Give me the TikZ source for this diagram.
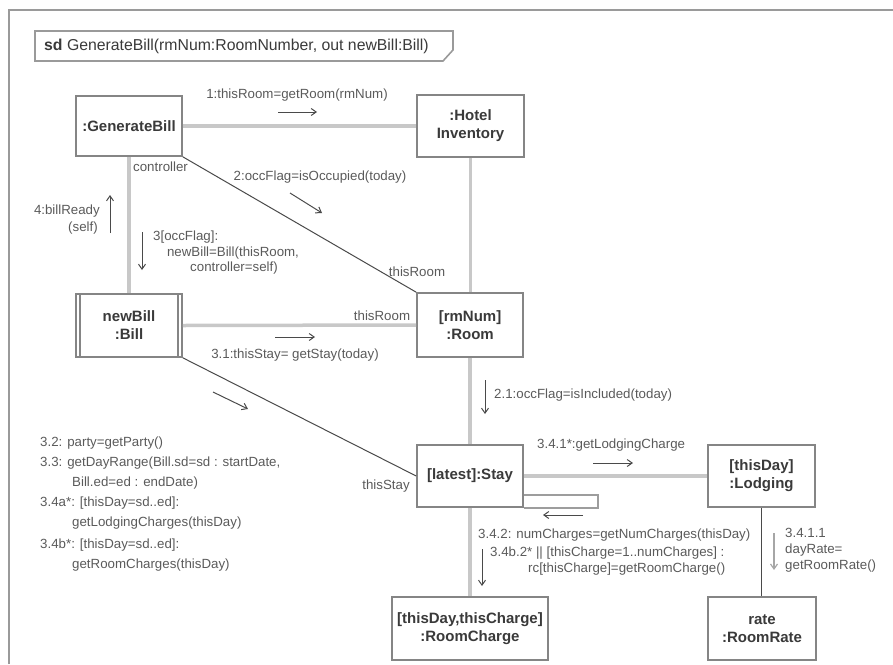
\documentclass[tikz,border=0pt]{standalone}
\usepackage{fontspec}
\setmainfont{Liberation Sans}
\usetikzlibrary{arrows.meta}
\definecolor{txtc}{HTML}{5A5A5A}
\definecolor{objtxt}{HTML}{3A3A3A}
\definecolor{boxc}{HTML}{858585}
\definecolor{linkc}{HTML}{C8C8C8}
\definecolor{diagc}{HTML}{4A4A4A}
\definecolor{arrc}{HTML}{4A4A4A}
\definecolor{framec}{HTML}{9A9A9A}
\begin{document}
\begin{tikzpicture}[x=1pt,y=-1pt,
  obj/.style={draw=boxc, line width=1.6pt, fill=white, inner sep=0pt, align=center,
    font=\fontsize{15}{18}\selectfont\bfseries, text=objtxt},
  link/.style={draw=linkc, line width=3.5pt},
  thinlink/.style={draw=diagc, line width=1pt},
  lbl/.style={font=\fontsize{13.3}{16}\selectfont, text=txtc, inner sep=0pt},
  msg/.style={draw=arrc, line width=1pt, -{Straight Barb[length=5pt,width=7pt]}},
  msggray/.style={draw=gray!70, line width=1.2pt, -{Straight Barb[length=5pt,width=7pt]}},
]
\useasboundingbox (0,0) rectangle (893,664);
% frame
\draw[draw=framec, line width=2.5pt] (9,664) -- (9,10) -- (893,10);
% header
\draw[draw=framec, line width=1.6pt] (35,31) -- (453,31) -- (453,50) -- (443,61) -- (35,61) -- cycle;
\node[lbl, anchor=west, text=objtxt, font=\fontsize{15.8}{18}\selectfont] (hdr) at (44,46) {\textbf{sd} GenerateBill(rmNum:RoomNumber, out newBill:Bill)};

% objects
\node[obj, minimum width=106pt, minimum height=60pt] (gen) at (129,126) {:GenerateBill};
\node[obj, minimum width=107pt, minimum height=62pt] (hotel) at (470.5,126) {:Hotel\\Inventory};
\node[obj, minimum width=106pt, minimum height=63pt] (bill) at (129,325.5) {newBill\\:Bill};
\node[obj, minimum width=106pt, minimum height=64pt] (room) at (470,325) {[rmNum]\\:Room};
\node[obj, minimum width=106pt, minimum height=62pt] (stay) at (470,476) {[latest]:Stay};
\node[obj, minimum width=107pt, minimum height=62pt] (lodg) at (761.5,476) {[thisDay]\\:Lodging};
\node[obj, minimum width=156pt, minimum height=63pt] (rc) at (470,628.5) {[thisDay,thisCharge]\\:RoomCharge};
\node[obj, minimum width=108pt, minimum height=63pt] (rate) at (762,628.5) {rate\\:RoomRate};
% active object double sides
\draw[draw=boxc, line width=1.6pt] ([xshift=5pt]bill.north west) -- ([xshift=5pt]bill.south west);
\draw[draw=boxc, line width=1.6pt] ([xshift=-5pt]bill.north east) -- ([xshift=-5pt]bill.south east);

% links
\draw[link] (gen.east) -- (hotel.west);
\draw[link] (gen.south) -- (bill.north);
\draw[link] (hotel.south) -- (hotel.south |- room.north);
\draw[link] (bill.east) -- (room.west);
\draw[link] (room.south) -- (stay.north);
\draw[link] (stay.east) -- (lodg.west);
\draw[link] (stay.south) -- (rc.north);
\draw[thinlink] (gen.south east) -- (room.north west);
\draw[thinlink] (bill.south east) -- (stay.west);
\draw[thinlink] (lodg.south) -- (lodg.south |- rate.north);
\draw[draw=boxc!80, line width=1.6pt] ([yshift=-19pt]stay.east) -- ++(74pt,0) |- (stay.south east);

% role labels
\node[lbl, anchor=west] (lctrl) at (133,167) {controller};
\node[lbl] (lroom1) at (417,272) {thisRoom};
\node[lbl] (lroom2) at (382,316) {thisRoom};
\node[lbl] (lstay) at (386,486) {thisStay};

% messages
\node[lbl] (m1) at (297,95) {1:thisRoom=getRoom(rmNum)};
\draw[msg] (278,112) -- (317,112);
\node[lbl] (m2) at (320,177) {2:occFlag=isOccupied(today)};
\draw[msg] (290,193) -- (322,213);
\node[lbl, anchor=east] (m4a) at (100,211) {4:billReady};
\node[lbl, anchor=east] (m4b) at (98,228) {(self)};
\draw[msg] (110,233) -- (110,195);
\node[lbl, anchor=west] (m3a) at (153,237) {3[occFlag]:};
\node[lbl] (m3b) at (233,253) {newBill=Bill(thisRoom,};
\node[lbl] (m3c) at (234,268) {controller=self)};
\draw[msg] (142,232) -- (142,270);
\draw[msg] (275,337) -- (315,337);
\node[lbl] (m31) at (295,355) {3.1:thisStay= getStay(today)};
\draw[msg] (213,392) -- (248,409);
\node[lbl, anchor=west] (m21) at (494,395) {2.1:occFlag=isIncluded(today)};
\draw[msg] (485,380) -- (485,414);
\node[lbl, anchor=west] (m341) at (537,445) {3.4.1*:getLodgingCharge};
\draw[msg] (593,463) -- (633,463);
\draw[msg] (583,515) -- (543,515);
\node[lbl, anchor=west] (m342) at (478,535) {3.4.2: numCharges=getNumCharges(thisDay)};
\node[lbl, anchor=west] (m34ba) at (490,553) {3.4b.2* || [thisCharge=1..numCharges] :};
\node[lbl, anchor=west] (m34bb) at (528,569) {rc[thisCharge]=getRoomCharge()};
\draw[msg] (482,549) -- (482,586);
\node[lbl, anchor=west] (m3411a) at (785,533) {3.4.1.1};
\node[lbl, anchor=west] (m3411b) at (785,550) {dayRate=};
\node[lbl, anchor=west] (m3411c) at (785,566) {getRoomRate()};
\draw[msggray] (774,533) -- (774,570);

% left block
\node[lbl, anchor=west] (b1) at (40,443) {3.2: party=getParty()};
\node[lbl, anchor=west] (b2) at (40,463) {3.3: getDayRange(Bill.sd=sd : startDate,};
\node[lbl, anchor=west] (b3) at (72,483) {Bill.ed=ed : endDate)};
\node[lbl, anchor=west] (b4) at (40,503) {3.4a*: [thisDay=sd..ed]:};
\node[lbl, anchor=west] (b5) at (72,523) {getLodgingCharges(thisDay)};
\node[lbl, anchor=west] (b6) at (40,545) {3.4b*: [thisDay=sd..ed]:};
\node[lbl, anchor=west] (b7) at (72,565) {getRoomCharges(thisDay)};
\end{tikzpicture}
\end{document}
